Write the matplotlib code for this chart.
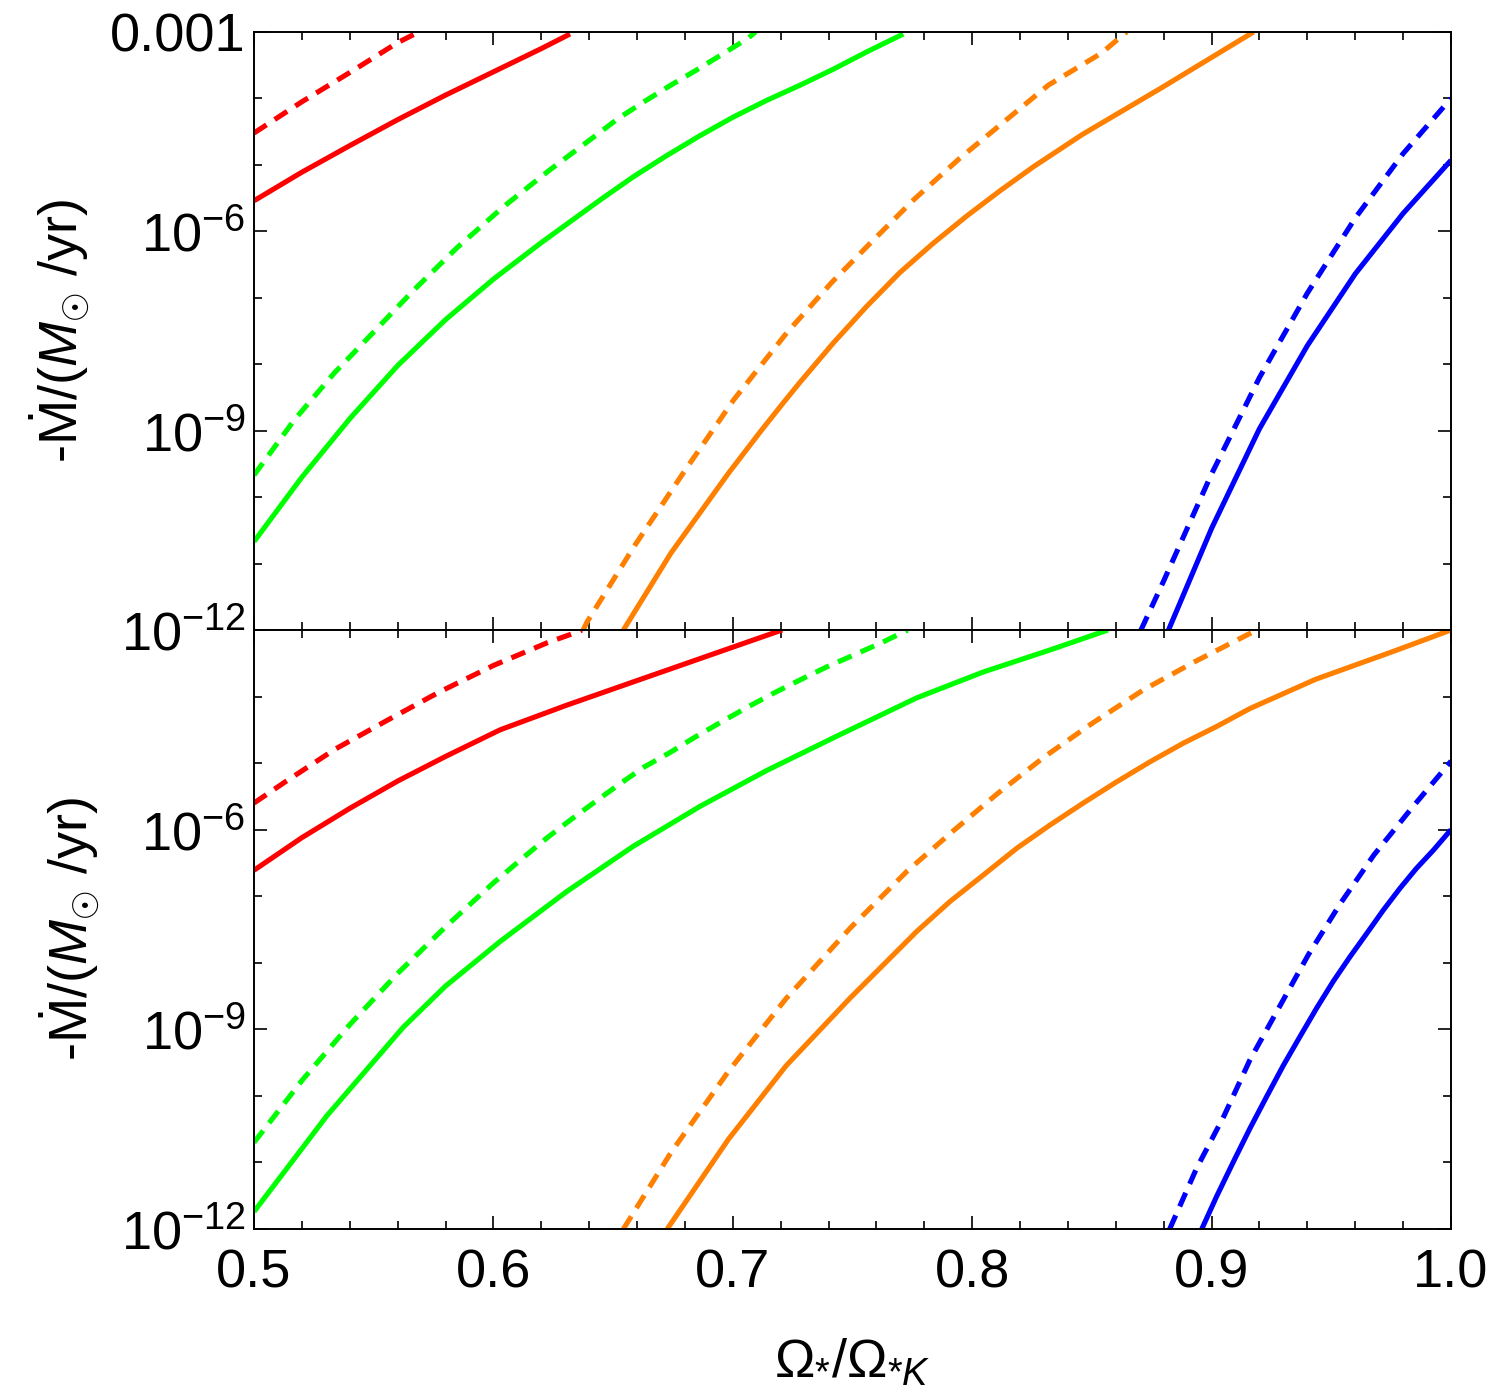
import numpy as np
import matplotlib
matplotlib.use("Agg")
import matplotlib.pyplot as plt
from matplotlib.ticker import FixedLocator, FixedFormatter, NullFormatter

plt.rcParams['font.family'] = ['Liberation Sans', 'DejaVu Sans']
plt.rcParams['mathtext.fontset'] = 'custom'
plt.rcParams['mathtext.rm'] = 'Liberation Sans'
plt.rcParams['mathtext.it'] = 'Liberation Sans:italic'
plt.rcParams['mathtext.bf'] = 'Liberation Sans:bold'

# ---------------- data (log10 of -Mdot in Msun/yr) ----------------
# Top panel
top_red_dash_x = [0.5, 0.52, 0.54, 0.56, 0.5688]
top_red_dash_y = [-4.52, -4.05, -3.61, -3.16, -3.0]
top_red_solid_x = [0.5, 0.52, 0.54, 0.56, 0.58, 0.60, 0.62, 0.632]
top_red_solid_y = [-5.54, -5.11, -4.71, -4.32, -3.95, -3.60, -3.25, -3.03]
top_green_dash_x = [0.5, 0.5168, 0.5336, 0.5504, 0.5663, 0.5847, 0.6042, 0.6234, 0.6434,
                    0.6522, 0.6629, 0.6741, 0.6845, 0.6949, 0.7061, 0.7095]
top_green_dash_y = [-9.67, -8.84, -8.13, -7.50, -6.90, -6.25, -5.63, -5.08, -4.54,
                    -4.30, -4.05, -3.80, -3.58, -3.35, -3.10, -3.0]
top_green_solid_x = [0.5, 0.52, 0.54, 0.56, 0.58, 0.60, 0.62, 0.6445, 0.6584, 0.6724,
                     0.6863, 0.7002, 0.7141, 0.7281, 0.742, 0.7559, 0.7712]
top_green_solid_y = [-10.67, -9.70, -8.82, -8.02, -7.33, -6.72, -6.17, -5.53, -5.18, -4.86,
                     -4.56, -4.28, -4.03, -3.80, -3.56, -3.30, -3.03]
top_orange_dash_x = [0.6375, 0.6391, 0.659, 0.6798, 0.7005, 0.7227, 0.7413, 0.7582, 0.7757,
                     0.7945, 0.814, 0.8318, 0.8539, 0.8645]
top_orange_dash_y = [-12.0, -11.88, -10.73, -9.61, -8.53, -7.52, -6.77, -6.15, -5.52,
                     -4.91, -4.33, -3.80, -3.32, -3.0]
top_orange_solid_x = [0.6543, 0.6742, 0.6982, 0.7114, 0.7211, 0.7281, 0.742, 0.7559, 0.7698,
                      0.7837, 0.7977, 0.8116, 0.8255, 0.8461, 0.8786, 0.9175]
top_orange_solid_y = [-12.0, -10.84, -9.64, -9.02, -8.58, -8.27, -7.68, -7.13, -6.62,
                      -6.18, -5.77, -5.39, -5.03, -4.54, -3.85, -3.0]
top_blue_dash_x = [0.8705, 0.88, 0.90, 0.92, 0.94, 0.96, 0.98, 1.0]
top_blue_dash_y = [-12.0, -11.26, -9.65, -8.20, -6.93, -5.80, -4.83, -4.0]
top_blue_solid_x = [0.882, 0.89, 0.90, 0.92, 0.94, 0.96, 0.98, 1.0]
top_blue_solid_y = [-12.0, -11.32, -10.47, -8.97, -7.72, -6.64, -5.73, -4.93]

# Bottom panel
bot_red_dash_x = [0.5, 0.5131, 0.5339, 0.5555, 0.5775, 0.6002, 0.6226, 0.6335, 0.637]
bot_red_dash_y = [-5.60, -5.28, -4.79, -4.36, -3.93, -3.53, -3.19, -3.05, -3.0]
bot_red_solid_x = [0.5, 0.52, 0.54, 0.56, 0.58, 0.6028, 0.6306, 0.6584, 0.6863, 0.7086, 0.7206]
bot_red_solid_y = [-6.61, -6.12, -5.68, -5.27, -4.90, -4.50, -4.13, -3.78, -3.43, -3.15, -3.0]
bot_green_dash_x = [0.5, 0.52, 0.54, 0.56, 0.58, 0.60, 0.6128, 0.6225, 0.6327, 0.6425, 0.6529,
                    0.6629, 0.6738, 0.6842, 0.6953, 0.7061, 0.717, 0.7281, 0.7395, 0.7503,
                    0.7622, 0.773]
bot_green_dash_y = [-10.70, -9.77, -8.93, -8.16, -7.46, -6.80, -6.41, -6.12, -5.84, -5.58, -5.31,
                    -5.06, -4.84, -4.61, -4.38, -4.16, -3.95, -3.75, -3.55, -3.38,
                    -3.19, -3.0]
bot_green_solid_x = [0.5, 0.5304, 0.5623, 0.58, 0.6028, 0.6306, 0.6584, 0.6863, 0.7142, 0.742,
                     0.7768, 0.8047, 0.8325, 0.8567]
bot_green_solid_y = [-11.74, -10.30, -8.97, -8.35, -7.68, -6.93, -6.25, -5.65, -5.11, -4.62,
                     -4.02, -3.63, -3.30, -3.0]
bot_orange_dash_x = [0.6543, 0.6742, 0.6982, 0.7222, 0.749, 0.7729, 0.7917, 0.8105, 0.83,
                     0.8502, 0.8715, 0.8933, 0.9156, 0.919]
bot_orange_dash_y = [-12.0, -10.85, -9.63, -8.54, -7.48, -6.62, -6.03, -5.46, -4.91,
                     -4.40, -3.90, -3.47, -3.06, -3.0]
bot_orange_solid_x = [0.6726, 0.6982, 0.7222, 0.749, 0.7629, 0.7768, 0.7907, 0.8047, 0.8186,
                      0.8325, 0.8464, 0.8604, 0.8743, 0.8882, 0.9021, 0.916, 0.9435, 0.976, 1.0]
bot_orange_solid_y = [-12.0, -10.65, -9.55, -8.53, -8.03, -7.53, -7.08, -6.68, -6.28,
                      -5.93, -5.60, -5.28, -4.98, -4.70, -4.45, -4.18, -3.74, -3.32, -3.0]
bot_blue_dash_x = [0.8825, 0.8836, 0.8937, 0.9052, 0.916, 0.9282, 0.9404, 0.9536, 0.9678,
                   0.9835, 0.9984, 1.0]
bot_blue_dash_y = [-12.0, -11.91, -11.09, -10.30, -9.46, -8.67, -7.88, -7.12, -6.38,
                   -5.68, -5.04, -4.97]
bot_blue_solid_x = [0.8959, 0.9021, 0.9091, 0.916, 0.923, 0.930, 0.9369, 0.9439, 0.9508,
                    0.9578, 0.9648, 0.9717, 0.9787, 0.9856, 0.9926, 1.0]
bot_blue_solid_y = [-12.0, -11.51, -10.99, -10.49, -10.01, -9.54, -9.11, -8.68, -8.28,
                    -7.91, -7.56, -7.21, -6.88, -6.58, -6.31, -6.0]

colors = {'red': '#ff0000', 'green': '#00ff00', 'orange': '#ff8000', 'blue': '#0000ff'}

top_series = [
    ('red', '--', top_red_dash_x, top_red_dash_y), ('red', '-', top_red_solid_x, top_red_solid_y),
    ('green', '--', top_green_dash_x, top_green_dash_y), ('green', '-', top_green_solid_x, top_green_solid_y),
    ('orange', '--', top_orange_dash_x, top_orange_dash_y), ('orange', '-', top_orange_solid_x, top_orange_solid_y),
    ('blue', '--', top_blue_dash_x, top_blue_dash_y), ('blue', '-', top_blue_solid_x, top_blue_solid_y),
]
bot_series = [
    ('red', '--', bot_red_dash_x, bot_red_dash_y), ('red', '-', bot_red_solid_x, bot_red_solid_y),
    ('green', '--', bot_green_dash_x, bot_green_dash_y), ('green', '-', bot_green_solid_x, bot_green_solid_y),
    ('orange', '--', bot_orange_dash_x, bot_orange_dash_y), ('orange', '-', bot_orange_solid_x, bot_orange_solid_y),
    ('blue', '--', bot_blue_dash_x, bot_blue_dash_y), ('blue', '-', bot_blue_solid_x, bot_blue_solid_y),
]

x_major = [0.5, 0.6, 0.7, 0.8, 0.9, 1.0]
x_labels = ['0.5', '0.6', '0.7', '0.8', '0.9', '1.0']
y_major_top = [1e-12, 1e-9, 1e-6, 1e-3]
y_labels_top = [r'$10^{-12}$', r'$10^{-9}$', r'$10^{-6}$', '0.001']
y_major_bot = [1e-12, 1e-9, 1e-6, 1e-3]
y_labels_bot = [r'$10^{-12}$', r'$10^{-9}$', r'$10^{-6}$', '']

FS = 39
W, H = 1495, 1396
fig = plt.figure(figsize=(W / 100, H / 100), dpi=100)
L, R = 254 / W, 1451 / W
ax_top = fig.add_axes([L, 1 - 630 / H, R - L, (630 - 32) / H])
ax_bot = fig.add_axes([L, 1 - 1229 / H, R - L, (1229 - 630) / H])

def style(ax, series, ymaj, ylab, show_x):
    for c, ls, xs, ys in series:
        kw = dict(color=colors[c], lw=3.7, solid_capstyle='butt', solid_joinstyle='round')
        if ls == '--':
            kw['linestyle'] = (0, (2.9, 1.9))
            kw['dash_capstyle'] = 'butt'
        ax.plot(xs, 10 ** np.asarray(ys), **kw)
    ax.set_yscale('log')
    ax.set_xlim(0.5, 1.0)
    ax.set_ylim(1e-12, 1e-3)
    ax.xaxis.set_major_locator(FixedLocator(x_major))
    ax.xaxis.set_minor_locator(FixedLocator(np.arange(0.52, 1.0, 0.02)))
    if show_x:
        ax.xaxis.set_major_formatter(FixedFormatter(x_labels))
    else:
        ax.xaxis.set_major_formatter(NullFormatter())
    ax.xaxis.set_minor_formatter(NullFormatter())
    ax.yaxis.set_major_locator(FixedLocator(ymaj))
    ax.yaxis.set_major_formatter(FixedFormatter(ylab))
    ax.yaxis.set_minor_locator(FixedLocator([10.0 ** k for k in range(-12, -2) if k % 3 != 0]))
    ax.yaxis.set_minor_formatter(NullFormatter())
    ax.tick_params(which='both', direction='in', top=True, right=True, width=1.2, color='black')
    ax.tick_params(which='major', length=9.5, labelsize=FS, pad=6)
    ax.tick_params(which='minor', length=6)
    for s in ax.spines.values():
        s.set_linewidth(1.4)
    ax.set_ylabel(r'-$\dot{\mathrm{M}}$/($M_{\odot}$ /yr)', fontsize=FS, labelpad=14)

style(ax_top, top_series, y_major_top, y_labels_top, False)
style(ax_bot, bot_series, y_major_bot, y_labels_bot, True)
ax_bot.tick_params(axis='x', pad=14)
ax_bot.set_xlabel(r'$\Omega_{*}/\Omega_{*K}$', fontsize=FS, labelpad=28)

fig.savefig('out.png', dpi=100)
